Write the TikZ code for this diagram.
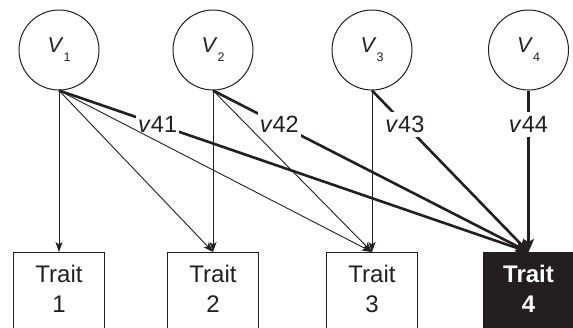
\documentclass[tikz,border=0pt]{standalone}
\usepackage{fontspec}
\setmainfont{Liberation Sans}
\usetikzlibrary{arrows.meta}
\definecolor{ink}{RGB}{35,31,32}
\newcommand\vlab[1]{{\fontsize{21.5}{21.5}\selectfont\textit{V}}\raisebox{-9pt}{\fontsize{12.5}{12.5}\selectfont #1}}
\begin{document}
\begin{tikzpicture}[x=1pt,y=-1pt,
  vnode/.style={circle,draw=ink,line width=1pt,minimum size=80pt,inner sep=0pt,text=ink},
  traitbox/.style={rectangle,draw=ink,line width=1pt,minimum width=91pt,minimum height=90pt,anchor=north,inner sep=0pt},
  darkbox/.style={traitbox,fill=ink},
  ttext/.style={anchor=base,font=\fontsize{24}{24}\selectfont,inner sep=0pt,text=ink},
  dtext/.style={ttext,font=\fontsize{24}{24}\selectfont\bfseries,text=white},
  thinarr/.style={draw=ink,line width=0.9pt,-{Stealth[length=10pt,width=7pt,inset=2.5pt]}},
  thickarr/.style={draw=ink,line width=2.6pt,-{Stealth[length=13pt,width=11pt,inset=3pt]}},
  wlab/.style={fill=white,inner xsep=2pt,inner ysep=4pt,font=\fontsize{23.5}{23.5}\selectfont,pos=0.21,text=ink},
]
\useasboundingbox (0,0) rectangle (573,327);
\clip (0,0) rectangle (573,327);

% latent variables
\node[vnode] (v1) at (59,50) {\vlab{1}};
\node[vnode] (v2) at (213,50) {\vlab{2}};
\node[vnode] (v3) at (372,50) {\vlab{3}};
\node[vnode] (v4) at (528.5,50) {\vlab{4}};

% trait boxes
\node[traitbox] (t1) at (59,252) {};
\node[traitbox] (t2) at (213,252) {};
\node[traitbox] (t3) at (372,252) {};
\node[darkbox] (t4) at (528.5,252) {};
\node[ttext] (t1a) at ([yshift=-30pt]t1.north) {Trait};
\node[ttext] (t1b) at ([yshift=-60pt]t1.north) {1};
\node[ttext] (t2a) at ([yshift=-30pt]t2.north) {Trait};
\node[ttext] (t2b) at ([yshift=-60pt]t2.north) {2};
\node[ttext] (t3a) at ([yshift=-30pt]t3.north) {Trait};
\node[ttext] (t3b) at ([yshift=-60pt]t3.north) {3};
\node[dtext] (t4a) at ([yshift=-30pt]t4.north) {Trait};
\node[dtext] (t4b) at ([yshift=-60pt]t4.north) {4};

% thick paths to trait 4 with labels
\draw[thickarr] (v1.south) -- node[wlab] (l41) {\textit{v}41} (t4.north);
\draw[thickarr] (v2.south) -- node[wlab] (l42) {\textit{v}42} (t4.north);
\draw[thickarr] (v3.south) -- node[wlab] (l43) {\textit{v}43} (t4.north);
\draw[thickarr] (v4.south) -- node[wlab] (l44) {\textit{v}44} (t4.north);

% thin paths
\draw[thinarr] (v1.south) -- (t1.north);
\draw[thinarr] (v1.south) -- (t2.north);
\draw[thinarr] (v1.south) -- (t3.north);
\draw[thinarr] (v2.south) -- (t2.north);
\draw[thinarr] (v2.south) -- (t3.north);
\draw[thinarr] (v3.south) -- (t3.north);
\end{tikzpicture}
\end{document}
